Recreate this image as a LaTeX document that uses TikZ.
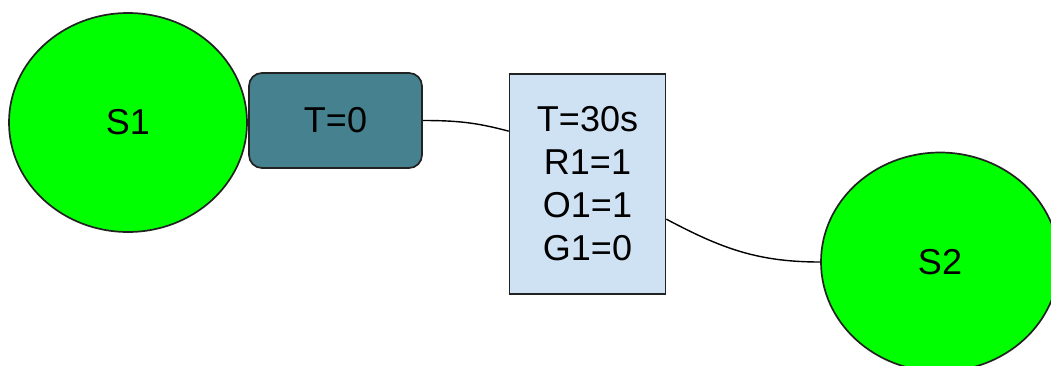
\documentclass[tikz,border=0pt]{standalone}
\usepackage{fontspec}
\setmainfont{Liberation Sans}
\usetikzlibrary{shapes.geometric}
\definecolor{stategreen}{HTML}{00FF00}
\definecolor{timerteal}{HTML}{45818E}
\definecolor{condblue}{HTML}{CFE2F3}
\definecolor{edgegray}{HTML}{222222}
\begin{document}
\begin{tikzpicture}[x=1pt,y=-1pt,
  every node/.style={font=\fontsize{36}{43}\selectfont, text=black},
  statenode/.style={ellipse, draw=edgegray, line width=1.7pt, fill=stategreen, inner sep=0pt, minimum width=238pt, minimum height=219pt},
  timernode/.style={rectangle, rounded corners=13pt, draw=edgegray, line width=1.7pt, fill=timerteal, inner sep=0pt, minimum width=173pt, minimum height=95pt},
  condnode/.style={rectangle, draw=edgegray, line width=1.7pt, fill=condblue, inner sep=0pt, minimum width=156pt, minimum height=220pt, align=center},
  link/.style={draw=black, line width=1.4pt}
]
\useasboundingbox (0,0) rectangle (1051,365);
\node[statenode] (s1) at (128,122.5) {S1};
\node[statenode] (s2) at (940,262) {S2};
\node[timernode] (t0) at (335.5,120.5) {T=0};
\node[condnode] (cond) at (587.5,184) {T=30s\\R1=1\\O1=1\\G1=0};
\draw[link] (t0.east) to[out=0,in=165] ([yshift=-58pt]cond.north west);
\draw[link] ([yshift=-146pt]cond.north east) to[out=-28,in=180] (s2.west);
\end{tikzpicture}
\end{document}
